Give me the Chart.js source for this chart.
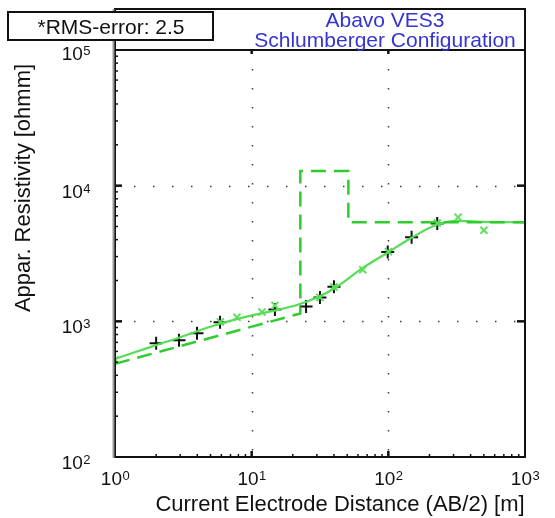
<!DOCTYPE html>
<html>
<head>
<meta charset="utf-8">
<script src="https://cdn.jsdelivr.net/npm/chart.js@4"></script>
<style>
  html, body { margin: 0; padding: 0; background: #fff; }
  #wrap { width: 555px; height: 518px; }
</style>
</head>
<body>
<div id="wrap"><canvas id="ves"></canvas></div>
<script>
// ---- data ----
const measX = [2, 2.94, 3.98, 5.87, 14.8, 25, 31.6, 40, 99, 148, 228];
const measY = [690, 726, 817, 984, 1224, 1286, 1497, 1800, 3240, 4170, 5270];

const calcX = [1, 5.9, 7.8, 11.9, 14.8, 31.6, 40, 65, 100, 228, 324, 500];
const calcY = [520, 990, 1070, 1170, 1310, 1500, 1790, 2400, 3260, 5300, 5840, 4690];

const fitX = [1, 2, 3, 4, 6, 10, 15, 22, 30, 40, 65, 100, 150, 230, 330, 500, 1000];
const fitY = [528, 668, 764, 846, 967, 1106, 1203, 1330, 1497, 1740, 2477, 3240, 4170, 5190, 5500, 5400, 5370];

const modelX = [1, 22.7, 22.7, 51, 51, 1000];
const modelY = [486, 1143, 12800, 12800, 5370, 5370];

const xDecades = [0, 1, 2, 3];
const yDecades = [2, 3, 4, 5];

const titleLines = ['Abavo VES3', 'Schlumberger Configuration'];
const rmsText = '*RMS-error: 2.5';
const xTitle = 'Current Electrode Distance (AB/2) [m]';
const yTitle = 'Appar. Resistivity [ohmm]';

const pts = (xs, ys) => xs.map((x, i) => ({ x: x, y: ys[i] }));

const FONT = "'Liberation Sans', Arial, sans-serif";

function sup(ctx, base, exp, x, y, align) {
    ctx.font = '19px ' + FONT;
    const wb = ctx.measureText(base).width;
    ctx.font = '13px ' + FONT;
    const we = ctx.measureText(exp).width;
    let x0 = x;
    if (align === 'center') x0 = x - (wb + we) / 2;
    if (align === 'right') x0 = x - (wb + we);
    ctx.textAlign = 'left';
    ctx.textBaseline = 'alphabetic';
    ctx.font = '19px ' + FONT;
    ctx.fillText(base, x0, y);
    ctx.font = '13px ' + FONT;
    ctx.fillText(exp, x0 + wb + 0.5, y - 5);
}

const decor = {
    id: 'decor',
    beforeDatasetsDraw(chart) {
        const { ctx, chartArea: a, scales } = chart;
        const sx = scales.x, sy = scales.y;
        ctx.save();
        // dotted grid at decades
        ctx.strokeStyle = 'rgba(40,40,40,0.9)';
        ctx.lineWidth = 1.5;
        ctx.setLineDash([1.5, 17.5]);
        xDecades.slice(1, -1).forEach(d => {
            const px = Math.round(sx.getPixelForValue(Math.pow(10, d))) + 0.5;
            ctx.beginPath(); ctx.moveTo(px, a.top); ctx.lineTo(px, a.bottom); ctx.stroke();
        });
        yDecades.slice(1, -1).forEach(d => {
            const py = Math.round(sy.getPixelForValue(Math.pow(10, d))) + 0.5;
            ctx.beginPath(); ctx.moveTo(a.left, py); ctx.lineTo(a.right, py); ctx.stroke();
        });
        ctx.restore();
    },
    afterDraw(chart) {
        const { ctx, chartArea: a, scales } = chart;
        const sx = scales.x, sy = scales.y;
        ctx.save();

        // minor + major ticks
        ctx.strokeStyle = '#111';
        ctx.lineWidth = 1.5;
        for (let d = 0; d < 3; d++) {
            for (let m = 2; m <= 9; m++) {
                const px = sx.getPixelForValue(m * Math.pow(10, d));
                ctx.beginPath(); ctx.moveTo(px, a.bottom); ctx.lineTo(px, a.bottom - 3); ctx.stroke();
            }
        }
        for (let d = 2; d < 5; d++) {
            for (let m = 2; m <= 9; m++) {
                const py = sy.getPixelForValue(m * Math.pow(10, d));
                ctx.beginPath(); ctx.moveTo(a.left, py); ctx.lineTo(a.left + 3, py); ctx.stroke();
            }
        }
        ctx.lineWidth = 2.5;
        xDecades.slice(1, -1).forEach(d => {
            const px = sx.getPixelForValue(Math.pow(10, d));
            ctx.beginPath(); ctx.moveTo(px, a.bottom); ctx.lineTo(px, a.bottom - 6); ctx.stroke();
            ctx.beginPath(); ctx.moveTo(px, a.top); ctx.lineTo(px, a.top + 4); ctx.stroke();
        });
        yDecades.slice(1, -1).forEach(d => {
            const py = sy.getPixelForValue(Math.pow(10, d));
            ctx.beginPath(); ctx.moveTo(a.left, py); ctx.lineTo(a.left + 7, py); ctx.stroke();
            ctx.beginPath(); ctx.moveTo(a.right, py); ctx.lineTo(a.right - 8, py); ctx.stroke();
        });

        // title box above the plot
        ctx.lineWidth = 2;
        ctx.strokeStyle = '#111';
        ctx.strokeRect(a.left, 9, a.right - a.left, a.top - 9);

        // frame
        ctx.strokeRect(a.left, a.top, a.right - a.left, a.bottom - a.top);
        // grey left axis
        ctx.strokeStyle = '#9a9a9a';
        ctx.lineWidth = 2;
        ctx.beginPath(); ctx.moveTo(a.left - 1.5, 9); ctx.lineTo(a.left - 1.5, a.bottom + 1); ctx.stroke();

        ctx.fillStyle = '#3434d4';
        ctx.font = '21px ' + FONT;
        ctx.textAlign = 'center';
        ctx.textBaseline = 'alphabetic';
        ctx.fillText(titleLines[0], 385, 27);
        ctx.fillText(titleLines[1], 385, 47);

        // RMS box
        ctx.fillStyle = '#fff';
        ctx.fillRect(8, 12, 205, 28);
        ctx.strokeStyle = '#111';
        ctx.lineWidth = 2;
        ctx.strokeRect(8, 12, 205, 28);
        ctx.fillStyle = '#111';
        ctx.font = '21px ' + FONT;
        ctx.fillText(rmsText, 111, 34);

        // tick labels
        ctx.fillStyle = '#111';
        xDecades.forEach(d => {
            sup(ctx, '10', String(d), sx.getPixelForValue(Math.pow(10, d)), 485, 'center');
        });
        yDecades.forEach(d => {
            const py = sy.getPixelForValue(Math.pow(10, d));
            sup(ctx, '10', String(d), 90, d === 5 ? py + 10 : py + 12, 'right');
        });

        // axis titles
        ctx.font = '22px ' + FONT;
        ctx.textAlign = 'center';
        ctx.fillText(xTitle, 340, 511);
        ctx.translate(30, 188);
        ctx.rotate(-Math.PI / 2);
        ctx.fillText(yTitle, 0, 0);
        ctx.restore();
    }
};

new Chart(document.getElementById('ves'), {
    type: 'scatter',
    data: {
        datasets: [
            {
                label: 'model',
                data: pts(modelX, modelY),
                showLine: true,
                borderColor: '#2fcc2f',
                borderWidth: 2.5,
                borderDash: [15, 8],
                pointRadius: 0,
                tension: 0,
            },
            {
                label: 'fit',
                data: pts(fitX, fitY),
                showLine: true,
                borderColor: '#55dd55',
                borderWidth: 2.2,
                pointRadius: 0,
                cubicInterpolationMode: 'monotone',
            },
            {
                label: 'calculated',
                data: pts(calcX, calcY),
                showLine: false,
                pointStyle: 'crossRot',
                pointRadius: 5,
                borderColor: '#5fe05f',
                borderWidth: 2,
            },
            {
                label: 'measured',
                data: pts(measX, measY),
                showLine: false,
                pointStyle: 'cross',
                pointRadius: 6.5,
                borderColor: '#111',
                borderWidth: 2,
            },
        ]
    },
    options: {
        responsive: true,
        maintainAspectRatio: false,
        animation: false,
        layout: { padding: { left: 115, top: 50, right: 30, bottom: 61 } },
        plugins: {
            legend: { display: false },
            tooltip: { enabled: false },
        },
        scales: {
            x: { type: 'logarithmic', min: 1, max: 1000, display: false },
            y: { type: 'logarithmic', min: 100, max: 100000, display: false },
        }
    },
    plugins: [decor]
});
</script>
</body>
</html>
